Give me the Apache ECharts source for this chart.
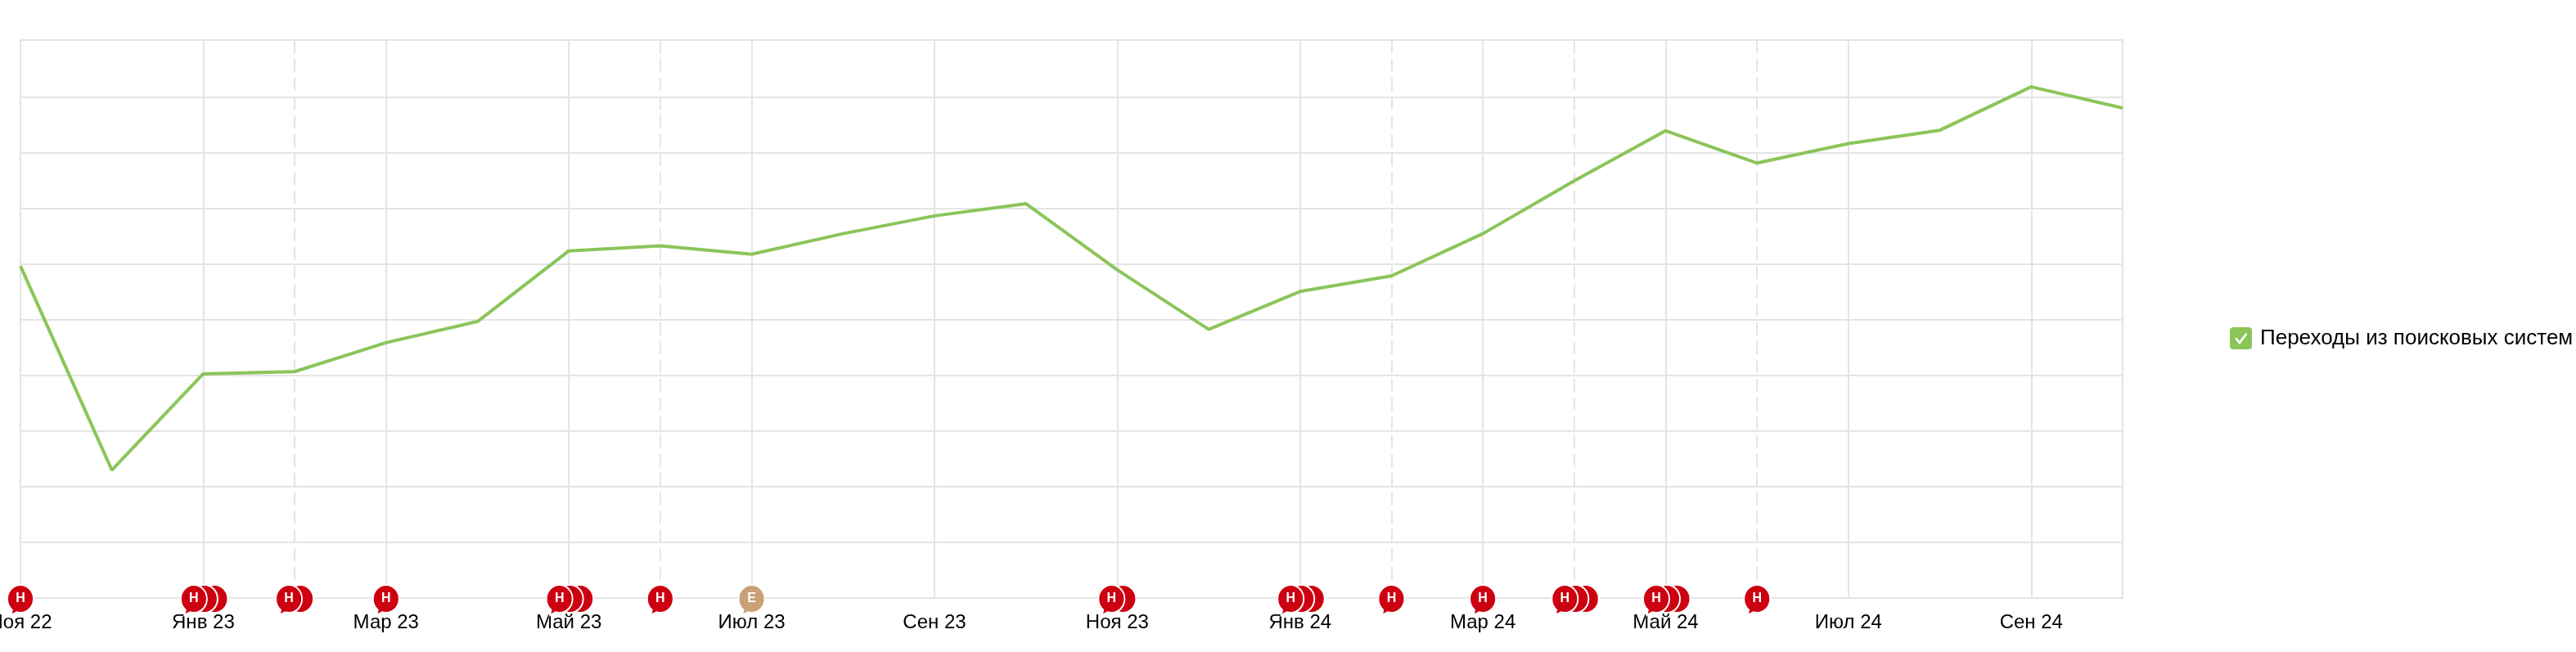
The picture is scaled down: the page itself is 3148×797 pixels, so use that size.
<!DOCTYPE html>
<html>
<head>
<meta charset="utf-8">
<style>html,body{margin:0;padding:0;background:#fff}#c{width:3148px;height:797px}</style>
<script src="https://cdn.jsdelivr.net/npm/echarts@6/dist/echarts.min.js"></script>
</head>
<body>
<div id="c"></div>
<script>
const seriesName = 'Переходы из поисковых систем';
const months = ['Ноя 22','Дек 22','Янв 23','Фев 23','Мар 23','Апр 23','Май 23','Июн 23','Июл 23','Авг 23','Сен 23','Окт 23','Ноя 23','Дек 23','Янв 24','Фев 24','Мар 24','Апр 24','Май 24','Июн 24','Июл 24','Авг 24','Сен 24','Окт 24'];
const visits = [59.7,23.0,40.3,40.7,45.9,49.7,62.4,63.3,61.8,65.5,68.7,70.9,59.0,48.3,55.1,57.9,65.5,75.0,84.0,78.2,81.7,84.1,91.9,88.1];
const eventMonths = ['Ноя 22','Янв 23','Фев 23','Мар 23','Май 23','Июн 23','Июл 23','Ноя 23','Янв 24','Фев 24','Мар 24','Апр 24','Май 24','Июн 24'];
const eventCounts = [1,3,2,1,3,1,1,2,3,1,1,3,3,1];
const eventLetters = ['Н','Н','Н','Н','Н','Н','Е','Н','Н','Н','Н','Н','Н','Н'];
const dashedMonths = ['Фев 23','Июн 23','Фев 24','Апр 24','Июн 24'];

const GRID = '#e4e4e4', GREEN = '#8bc55a', RED = '#cc0011', TAN = '#c9a077';
const FONT = '"Liberation Sans", Arial, sans-serif';
const bubble = 'path://M15 0C23.3 0 30 7.2 30 16C30 24.8 23.3 32 15 32C13.5 32 12 31.8 10.6 31.3L4 34.7L5.5 28.8C2.1 25.8 0 21.2 0 16C0 7.2 6.7 0 15 0Z';
const check = 'path://M4 0H24C26.2 0 28 1.8 28 4V24C28 26.2 26.2 28 24 28H4C1.8 28 0 26.2 0 24V4C0 1.8 1.8 0 4 0ZM6.5 14.5L12.2 22L22 9L20 7.2L12.1 17.6L8.6 13Z';
const offsets = {1:[0],2:[-7,7],3:[-11.5,1.5,14]};

const backItems = [[],[]];
const frontItems = [];
eventMonths.forEach((m,i)=>{
  const off = offsets[eventCounts[i]];
  const color = eventLetters[i]==='Е' ? TAN : RED;
  frontItems.push({value:[m,0],symbolOffset:[off[0],2.5],itemStyle:{color},label:{formatter:eventLetters[i]}});
  for(let k=1;k<off.length;k++){
    backItems[off.length-1-k].push({value:[m,0],symbolOffset:[off[k],1],itemStyle:{color}});
  }
});
const layer = (data,symbol,size,z)=>({type:'scatter',data,symbol,symbolSize:size,clip:false,silent:true,z,
  itemStyle:{borderColor:'#fff',borderWidth:2,opacity:1}});

const chart = echarts.init(document.getElementById('c'),null,{renderer:'canvas'});
chart.setOption({
  animation:false,
  backgroundColor:'#fff',
  textStyle:{fontFamily:FONT},
  legend:{
    left:2725,top:400,itemWidth:27,itemHeight:28,padding:0,data:[{name:seriesName,icon:check}],
    selectedMode:false,
    textStyle:{color:'#000',fontSize:26,fontFamily:FONT,padding:[4,0,0,5]}
  },
  grid:{left:25,right:554,top:49,bottom:66,show:true,borderColor:GRID,borderWidth:2,backgroundColor:'transparent',outerBoundsMode:'none'},
  xAxis:[{
    type:'category',data:months,boundaryGap:false,
    axisLine:{show:false},axisTick:{show:false},
    axisLabel:{interval:(i)=>i%2===0,color:'#000',fontSize:24,fontFamily:FONT,margin:18,hideOverlap:false},
    splitLine:{show:true,interval:(i)=>i%2===0,lineStyle:{color:GRID,width:2}}
  },{
    type:'category',data:months,boundaryGap:false,position:'bottom',
    axisLine:{show:false},axisTick:{show:false},axisLabel:{show:false},
    splitLine:{show:true,interval:(i,v)=>dashedMonths.includes(v),lineStyle:{color:GRID,width:2,type:[16,7]}}
  }],
  yAxis:{
    type:'value',min:0,max:100.3,
    axisLine:{show:false},axisLabel:{show:false},
    axisTick:{show:false,customValues:[0,10,20,30,40,50,60,70,80,90,100.3]},
    splitLine:{show:true,lineStyle:{color:GRID,width:2}}
  },
  series:[
    {name:seriesName,type:'line',data:visits,color:GREEN,symbol:'none',lineStyle:{color:GREEN,width:4},z:3,silent:true},
    layer(backItems[0],'circle',[32,34],5),
    layer(backItems[1],'circle',[32,34],6),
    Object.assign(layer(frontItems,bubble,[32,37],7),{
      label:{show:true,position:'inside',color:'#fff',fontSize:16,fontWeight:'bold',fontFamily:FONT,offset:[0,-2]}
    })
  ]
});
</script>
</body>
</html>
